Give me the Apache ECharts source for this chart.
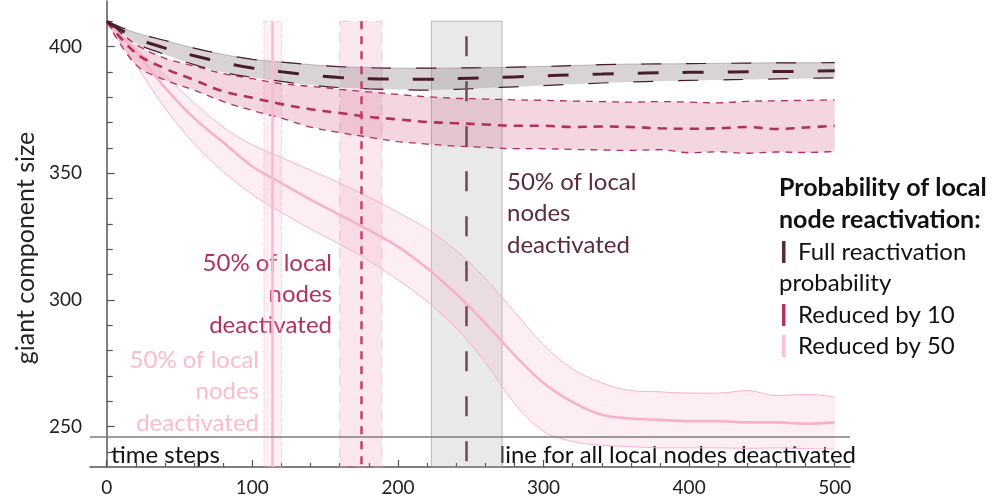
<!DOCTYPE html>
<html><head><meta charset="utf-8">
<script src="https://cdn.jsdelivr.net/npm/echarts@6/dist/echarts.min.js"></script>
<style>html,body{margin:0;padding:0;background:#fff}#c{width:1000px;height:497px}</style>
</head><body><div id="c"></div>
<script>
// ---- data ----
const steps = [0,20,40,60,80,100,120,140,160,180,200,220,240,260,280,300,320,340,360,380,400,420,440,460,480,500];

const fullMean = [410,403.5,399.5,396.5,393.8,391.7,390.2,388.9,388,387.5,387.3,387.3,387.5,387.8,388.2,388.6,389,389.3,389.6,389.8,390,390.1,390.2,390.3,390.4,390.6];
const fullHi   = [410,405.5,402.5,399.5,397,395.1,394,393,392.2,391.8,391.6,391.6,391.7,391.8,392,392.3,392.6,393,393.2,393.3,393.4,393.5,393.6,393.7,393.7,393.8];
const fullLo   = [410,401.5,397,393,390,388,386.4,385,384,383.5,383.2,383,383.3,383.8,384.3,384.8,385.3,385.8,386.2,386.5,386.8,387,387.2,387.4,387.6,387.8];

const r10Mean = [410,397.5,391.5,387,382.5,380,377.5,375.5,374,372.5,371.5,370.5,370,369.5,369,369,368.5,368.7,368.5,368,367.8,368,368.5,367.7,368.3,369];
const r10Hi   = [410,401,395.5,392.5,389.5,387.5,385.5,384.5,383.3,382.3,381.3,380.4,379.8,379.5,379.2,379,378.7,378.5,378.3,378.5,378.3,378,378.6,378.8,379,379.2];
const r10Lo   = [410,393,387,383,378.5,375,372,368.5,366.3,364.5,362.8,361.8,361,360.5,360,360,359.7,359.5,359.3,359.6,358.4,358.8,358.2,358.7,358.5,358.9];

const r50Mean = [410,398,384,372,362.5,353,346.5,340,334,328,321.5,313,303,291.5,279,268,260.5,255.5,254,253.5,253,253,252.5,252.5,252,252.5];
const r50Hi   = [410,399.5,389,378,368.5,361.5,356.5,351.5,346.5,341,335,328.5,320,309,296,283,273.5,268,265,264.5,264,264,265,263,263.5,262.5];
const r50Lo   = [410,393,376,362,351,342,335,328.5,322.5,316,308.5,300,289.5,276,260,249,245,243.5,243,242.5,242.5,242.5,242.3,242.5,242.2,242];

// time step at which 50% of local nodes are deactivated: [band start, mean, band end]
const fullDeact = [223,247,271.5];
const r10Deact  = [160,175,189];
const r50Deact  = [108,114,120];
const bandTop = 410;
const allDeactivatedLevel = 246;

const xMajorTicks = [0,100,200,300,400,500];
const xMinorTicks = [20,40,60,80,120,140,160,180,220,240,260,280,320,340,360,380,420,440,460,480];
const yMajorTicks = [250,300,350,400];
const yMinorTicks = [240,260,270,280,290,310,320,330,340,360,370,380,390,410];
const xMin = -11.5, xMax = 510.5, yMin = 234, yMax = 418;

// ---- layout ----
const G = {left:90, right:150, top:1, bottom:27.5};
const pxPerStep = (1000 - G.left - G.right) / (xMax - xMin);
const G2 = {left: G.left + (steps[0]-xMin)*pxPerStep,
            right: G.right + (xMax-steps[steps.length-1])*pxPerStep,
            top: G.top, bottom: G.bottom};

// ---- colours ----
const cDark = '#4a1c2c', cMid = '#b2305d', cLight = '#f7b3c6';
const FONT = 'Lato, "Open Sans", sans-serif';
const SM = 0.35;

function band(name, hi, lo, fill, edge){
  return [
    {type:'line', name:name+'base', xAxisIndex:2, yAxisIndex:2, stack:name, data:lo, symbol:'none', smooth:SM, silent:true,
     lineStyle:{width:0, color:'transparent'}, z:1},
    {type:'line', name:name+'band', xAxisIndex:2, yAxisIndex:2, stack:name, data:hi.map((v,i)=>+(v-lo[i]).toFixed(2)),
     symbol:'none', smooth:SM, silent:true,
     lineStyle:{width:edge?1:0, color:edge||'transparent'}, areaStyle:{color:fill, opacity:1}, z:1}
  ];
}
function curve(ys, color, width, type, z){
  return {type:'line', xAxisIndex:2, yAxisIndex:2, data:ys, symbol:'none', smooth:SM, silent:true,
          lineStyle:{color, width, type}, z:z||3};
}
function vMark(d, lineColor, lineType, areaColor, borderColor, borderType, dashOffset){
  return {type:'line', data:[], silent:true, z:2,
    markArea:{silent:true, itemStyle:{color:areaColor, borderColor, borderWidth:1, borderType},
      data:[[{xAxis:d[0], yAxis:bandTop},{xAxis:d[2], yAxis:yMin}]]},
    markLine:{silent:true, symbol:'none', label:{show:false},
      lineStyle:{color:lineColor, width:2.5, type:lineType, dashOffset:dashOffset||0},
      data:[[{coord:[d[1], bandTop]},{coord:[d[1], yMin]}]]}
  };
}

const series = [
  ...band('r50', r50Hi, r50Lo, 'rgba(245,150,180,0.16)'),
  ...band('r10', r10Hi, r10Lo, 'rgba(200,70,110,0.22)'),
  ...band('full', fullHi, fullLo, 'rgba(110,95,105,0.27)', 'rgba(150,140,145,0.6)'),
  vMark(r50Deact, '#f9bccd', 'solid', 'rgba(248,170,195,0.18)', 'rgba(248,170,195,0.55)', 'dashed'),
  vMark(r10Deact, '#c04070', [8,7], 'rgba(225,130,160,0.18)', 'rgba(235,150,180,0.5)', [10,8]),
  vMark(fullDeact, '#6e4a57', [20,25], 'rgba(140,135,138,0.18)', 'rgba(160,160,160,0.7)', 'solid', 30),
  curve(r50Hi, cLight, 1, 'solid'),
  curve(r50Lo, cLight, 1, 'solid'),
  curve(r50Mean, cLight, 2.6, 'solid', 4),
  curve(r10Hi, cMid, 1.3, [7,6]),
  curve(r10Lo, cMid, 1.3, [7,6]),
  curve(r10Mean, cMid, 2.6, [9,7], 4),
  curve(fullHi, cDark, 1.2, [20,25]),
  curve(fullLo, cDark, 1.2, [20,25]),
  curve(fullMean, cDark, 3, [21,24], 4),
  {type:'line', data:[], silent:true,
   markLine:{silent:true, symbol:'none', label:{show:false},
     lineStyle:{color:'#7e7e7e', width:1.6, type:'solid'}, data:[{yAxis:allDeactivatedLevel}]}}
];

const axisCommon = {type:'value', splitLine:{show:false}};
const option = {
  animation:false,
  grid:[Object.assign({containLabel:false}, G), Object.assign({containLabel:false}, G2)],
  xAxis:[
    Object.assign({}, axisCommon, {gridIndex:0, min:xMin, max:xMax,
      axisLine:{show:true, lineStyle:{color:'#555', width:1.5}},
      axisTick:{show:true, inside:true, length:7, customValues:xMajorTicks, lineStyle:{color:'#555', width:1.2}},
      axisLabel:{show:true, customValues:xMajorTicks, margin:11, fontSize:19, color:'#222', fontFamily:FONT}}),
    Object.assign({}, axisCommon, {gridIndex:0, min:xMin, max:xMax, position:'bottom',
      axisLine:{show:false},
      axisTick:{show:true, inside:true, length:4, customValues:xMinorTicks, lineStyle:{color:'#555', width:1.2}},
      axisLabel:{show:false}}),
    {type:'category', gridIndex:1, data:steps, boundaryGap:false, show:false}
  ],
  yAxis:[
    Object.assign({}, axisCommon, {gridIndex:0, min:yMin, max:yMax,
      axisLine:{show:true, lineStyle:{color:'#555', width:1.5}},
      axisTick:{show:true, inside:true, length:8, customValues:yMajorTicks, lineStyle:{color:'#555', width:1.2}},
      axisLabel:{show:true, customValues:yMajorTicks, margin:8, fontSize:19, color:'#222', fontFamily:FONT}}),
    Object.assign({}, axisCommon, {gridIndex:0, min:yMin, max:yMax, position:'left',
      axisLine:{show:false},
      axisTick:{show:true, inside:true, length:6, customValues:yMinorTicks, lineStyle:{color:'#555', width:1.2}},
      axisLabel:{show:false}}),
    {type:'value', gridIndex:1, min:yMin, max:yMax, show:false, splitLine:{show:false}}
  ],
  series,
  graphic:[
    {type:'text', x:26, y:248, rotation:Math.PI/2,
     style:{text:'giant component size', font:'25px '+FONT, fill:'#222', textAlign:'center', textVerticalAlign:'middle'}},
    {type:'text', x:507, y:213.5,
     style:{text:'50% of local\nnodes\ndeactivated', font:'24px '+FONT, fill:'#5b2b3d', lineHeight:31.5, textAlign:'left', textVerticalAlign:'middle'}},
    {type:'text', x:332, y:294,
     style:{text:'50% of local\nnodes\ndeactivated', font:'24px '+FONT, fill:'#b5305f', lineHeight:31, textAlign:'right', textVerticalAlign:'middle'}},
    {type:'text', x:259, y:391.5,
     style:{text:'50% of local\nnodes\ndeactivated', font:'24px '+FONT, fill:'#f9bccd', lineHeight:31.5, textAlign:'right', textVerticalAlign:'middle'}},
    {type:'text', x:111, y:455,
     style:{text:'time steps', font:'24px '+FONT, fill:'#111', textAlign:'left', textVerticalAlign:'middle'}},
    {type:'text', x:856, y:455,
     style:{text:'line for all local nodes deactivated', font:'24px '+FONT, fill:'#111', textAlign:'right', textVerticalAlign:'middle'}},
    {type:'text', x:779, y:204,
     style:{text:'Probability of local\nnode reactivation:', font:'bold 25px '+FONT, fill:'#111', lineHeight:31.5, textAlign:'left', textVerticalAlign:'middle'}},
    {type:'text', x:798, y:252,
     style:{text:'Full reactivation', font:'24px '+FONT, fill:'#111', textAlign:'left', textVerticalAlign:'middle'}},
    {type:'text', x:779, y:283,
     style:{text:'probability', font:'24px '+FONT, fill:'#111', textAlign:'left', textVerticalAlign:'middle'}},
    {type:'text', x:798, y:315,
     style:{text:'Reduced by 10', font:'24px '+FONT, fill:'#111', textAlign:'left', textVerticalAlign:'middle'}},
    {type:'text', x:798, y:346,
     style:{text:'Reduced by 50', font:'24px '+FONT, fill:'#111', textAlign:'left', textVerticalAlign:'middle'}},
    {type:'rect', shape:{x:782, y:241, width:3.5, height:22}, style:{fill:'#5a2a3a'}},
    {type:'rect', shape:{x:782, y:304, width:3.5, height:22}, style:{fill:'#b8325f'}},
    {type:'rect', shape:{x:782, y:335, width:3.5, height:22}, style:{fill:'#f8c2d2'}}
  ]
};
const chart = echarts.init(document.getElementById('c'), null, {renderer:'canvas'});
chart.setOption(option);
</script></body></html>
